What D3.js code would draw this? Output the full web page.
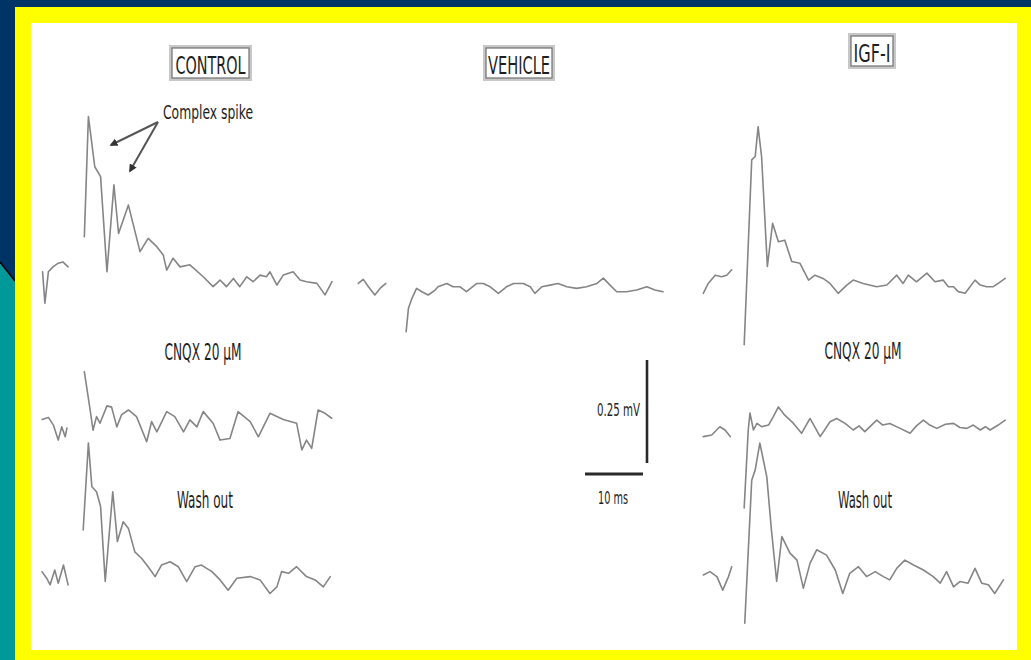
<!DOCTYPE html>
<html>
<head>
<meta charset="utf-8">
<script src="https://cdn.jsdelivr.net/npm/d3@7"></script>
<style>
  html, body { margin: 0; padding: 0; background: #003366; }
  svg { display: block; }
</style>
</head>
<body>
<svg id="fig" width="1031" height="660"></svg>
<script>
// ---- Labels ----
const columnTitles = ["CONTROL", "VEHICLE", "IGF-I"];
const rowLabels = ["CNQX 20 \u00b5M", "Wash out"];
const annotationText = "Complex spike";
const scaleBarLabels = ["0.25 mV", "10 ms"];
const scaleBarValues = [0.25, 10]; // mV, ms

// ---- Field potential traces: [time ms, voltage mV] ----
// CONTROL, baseline recording
const ctrlTopPre = [[0.1,0.015],[0.5,-0.061],[1.1,0.015],[1.9,0.027],[2.8,0.036],[3.6,0.039],[4.5,0.027]];
const ctrlTopPost = [[7.3,0.100],[8.0,0.392],[9.1,0.270],[10.1,0.246],[11.2,0.015],[12.4,0.226],[13.2,0.108],
  [14.9,0.177],[16.9,0.064],[18.3,0.096],[19.8,0.076],[20.9,0.056],[21.5,0.019],[22.6,0.048],[23.8,0.027],
  [25.5,0.032],[27.8,0.003],[29.5,-0.021],[30.7,-0.005],[31.8,-0.021],[33.0,-0.001],[34.1,-0.021],[35.3,0.003],
  [36.4,-0.009],[37.6,0.007],[38.7,0.003],[39.3,0.015],[40.5,-0.017],[41.6,0.007],[43.3,0.015],[44.5,-0.005],
  [45.6,-0.009],[47.4,-0.013],[48.8,-0.041],[50.0,-0.009]];
// CONTROL, CNQX 20 uM
const ctrlCnqxPre = [[0.0,-0.006],[1.1,-0.001],[1.95,-0.019],[2.8,-0.056],[3.4,-0.024],[4.0,-0.048],[4.3,-0.027]];
const ctrlCnqxPost = [[7.3,0.110],[8.3,0.017],[8.8,-0.032],[9.4,0.001],[10.0,-0.015],[11.2,0.027],[12.0,0.024],
  [12.9,-0.024],[13.7,0.005],[14.9,0.017],[16.3,0.001],[18.05,-0.060],[18.9,-0.011],[19.8,-0.036],[21.5,0.013],
  [22.9,0.001],[24.4,-0.036],[25.5,-0.007],[26.7,-0.024],[27.8,0.013],[29.5,-0.015],[30.7,-0.056],[32.4,-0.052],
  [33.8,0.013],[35.9,-0.011],[37.3,-0.048],[39.3,0.009],[41.6,-0.006],[43.9,-0.015],[44.8,-0.080],[45.6,-0.056],
  [46.5,-0.076],[47.6,0.017],[48.8,0.009],[49.95,-0.003]];
// CONTROL, wash out
const ctrlWashPre = [[0.0,0.013],[0.8,-0.003],[1.4,-0.019],[2.2,0.017],[2.8,-0.015],[3.7,0.029],[4.5,-0.019]];
const ctrlWashPost = [[7.1,0.114],[8.0,0.325],[8.6,0.219],[9.4,0.207],[10.1,0.171],[10.9,-0.011],[12.2,0.207],
  [13.0,0.086],[14.0,0.134],[14.9,0.118],[16.0,0.061],[17.2,0.045],[18.3,0.025],[19.5,0.001],[20.6,0.029],
  [22.1,0.037],[23.5,0.025],[24.95,-0.011],[26.4,0.025],[27.5,0.029],[29.3,0.013],[30.7,-0.007],[32.1,-0.032],
  [33.6,-0.003],[35.9,0.001],[37.6,-0.007],[39.3,-0.040],[40.5,-0.024],[41.3,0.013],[42.5,0.009],[43.9,0.025],
  [45.6,0.001],[47.1,-0.007],[48.5,-0.024],[49.7,0.001]];
// VEHICLE
const vehTopPre = [[0.05,0.011],[0.9,0.021],[1.8,0.003],[2.9,-0.017],[3.8,-0.001],[4.8,0.011]];
const vehTopPost = [[8.3,-0.106],[8.7,-0.049],[9.3,-0.025],[10.1,-0.001],[11.0,-0.009],[12.1,-0.017],[13.3,-0.005],
  [13.8,0.003],[15.3,0.011],[16.4,0.003],[17.6,0.003],[18.7,-0.009],[20.5,0.011],[21.6,0.011],[22.8,0.003],
  [24.2,-0.013],[25.6,0.003],[26.8,0.011],[28.5,0.011],[29.7,0.003],[30.5,-0.013],[31.7,0.003],[33.1,0.007],
  [34.5,0.011],[36.0,0.003],[37.7,-0.001],[39.4,0.003],[41.2,0.011],[42.3,0.024],[43.45,0.007],[44.6,-0.009],
  [46.3,-0.009],[48.05,-0.005],[49.8,0.003],[51.2,-0.005],[52.6,-0.009]];
// IGF-I, baseline recording
const igfTopPre = [[0.05,-0.025],[0.9,-0.001],[2.1,0.019],[3.2,0.015],[4.1,0.019],[4.95,0.032]];
const igfTopPost = [[7.1,-0.150],[8.4,0.299],[9.0,0.307],[9.5,0.379],[10.1,0.307],[11.1,0.040],[12.0,0.145],
  [13.0,0.100],[14.1,0.104],[15.3,0.052],[16.7,0.048],[18.2,0.007],[19.3,0.019],[20.7,0.011],[21.9,-0.001],
  [23.3,-0.025],[24.8,-0.005],[25.9,0.007],[27.6,-0.001],[29.95,-0.009],[31.7,-0.005],[33.4,0.019],[34.5,-0.001],
  [35.4,0.019],[36.8,0.003],[38.6,0.024],[40.0,0.003],[41.4,0.007],[42.3,-0.009],[43.2,-0.009],[44.0,-0.021],
  [45.2,-0.025],[46.9,0.007],[47.8,-0.005],[48.9,-0.009],[50.05,-0.009],[50.9,-0.001],[52.1,0.011]];
// IGF-I, CNQX 20 uM
const igfCnqxPre = [[0.05,-0.016],[1.5,-0.012],[2.9,0.008],[3.8,0.0],[4.7,-0.016]];
const igfCnqxPost = [[7.1,-0.189],[7.8,0.0],[8.1,0.041],[8.7,0.0],[9.3,0.016],[10.1,0.008],[11.3,0.012],
  [12.1,0.032],[13.0,0.056],[14.1,0.036],[15.6,0.016],[17.0,-0.008],[18.45,0.028],[20.2,-0.016],[21.9,0.020],
  [23.05,0.028],[24.5,0.016],[25.9,0.0],[26.9,0.010],[27.9,-0.004],[29.95,0.024],[31.0,0.012],[32.2,0.016],
  [34.0,0.004],[35.7,-0.008],[36.8,0.010],[38.0,0.024],[39.1,0.012],[40.3,0.004],[41.8,0.014],[43.2,0.016],
  [44.3,0.006],[45.5,0.004],[46.6,0.012],[47.8,0.0],[48.7,0.008],[49.5,0.0],[50.9,0.012],[52.1,0.024]];
// IGF-I, wash out
const igfWashPre = [[0.05,0.005],[1.2,0.013],[2.4,0.001],[3.4,-0.032],[4.4,0.001],[4.95,0.025]];
const igfWashPost = [[7.2,-0.112],[8.4,0.235],[9.0,0.260],[9.8,0.325],[11.0,0.243],[11.8,0.114],[12.7,-0.011],
  [13.6,0.098],[15.0,0.058],[16.2,0.041],[17.3,-0.027],[18.45,0.033],[19.6,0.066],[21.3,0.053],[22.8,0.017],
  [24.1,-0.040],[25.3,0.009],[26.8,0.025],[28.2,0.001],[29.7,0.013],[31.1,0.001],[32.2,-0.007],[33.4,0.021],
  [34.8,0.041],[36.3,0.029],[38.0,0.017],[39.7,0.001],[40.9,-0.015],[42.0,0.013],[43.2,-0.024],[44.3,-0.011],
  [45.7,-0.015],[46.9,0.021],[48.05,-0.015],[49.2,-0.019],[50.3,-0.040],[51.8,-0.007]];

// ---- Layout ----
const W = 1031, H = 660;
const PX_PER_MS = 5.8, PX_PER_MV = 412;
const colOrigin = [42, 358, 703];          // x of t = 0 per column
const traces = [
  { col: 0, base: 278, segs: [ctrlTopPre, ctrlTopPost] },
  { col: 0, base: 417, segs: [ctrlCnqxPre, ctrlCnqxPost] },
  { col: 0, base: 577, segs: [ctrlWashPre, ctrlWashPost] },
  { col: 1, base: 288, segs: [vehTopPre, vehTopPost] },
  { col: 2, base: 283, segs: [igfTopPre, igfTopPost] },
  { col: 2, base: 430, segs: [igfCnqxPre, igfCnqxPost] },
  { col: 2, base: 577, segs: [igfWashPre, igfWashPost] }
];

function xScaleFor(x0) {
  return d3.scaleLinear().domain([0, 50]).range([x0, x0 + 50 * PX_PER_MS]);
}
function yScaleFor(y0) {
  return d3.scaleLinear().domain([0, 0.25]).range([y0, y0 - 0.25 * PX_PER_MV]);
}

const svg = d3.select("#fig");
const narrow = "'Liberation Sans Narrow', 'DejaVu Sans Condensed', 'Liberation Sans', sans-serif";
const ink = "#1e1e1e";

// ---- Slide background ----
svg.append("rect").attr("width", W).attr("height", H).attr("fill", "#009999");
svg.append("polygon").attr("points", `0,0 ${W},0 ${W},8 15,8 15,281 0,263`).attr("fill", "#003366");
svg.append("line").attr("x1", 0).attr("y1", 262).attr("x2", 15).attr("y2", 281)
  .attr("stroke", "#000").attr("stroke-width", 1.5);
svg.append("rect").attr("x", 15).attr("y", 7).attr("width", W - 15).attr("height", H - 7).attr("fill", "#ffff00");
svg.append("rect").attr("x", 31).attr("y", 23).attr("width", 1017 - 31).attr("height", 650 - 23).attr("fill", "#ffffff");

// ---- Traces ----
const g = svg.append("g");
traces.forEach(tr => {
  const x = xScaleFor(colOrigin[tr.col]);
  const y = yScaleFor(tr.base);
  const line = d3.line().x(d => x(d[0])).y(d => y(d[1]));
  tr.segs.forEach(seg => {
    g.append("path").datum(seg).attr("d", line)
      .attr("fill", "none").attr("stroke", "#858585")
      .attr("stroke-width", 1.6).attr("stroke-linejoin", "round").attr("stroke-linecap", "round");
  });
});

// ---- Column titles in framed boxes ----
const titleBoxes = [
  { x: 169, y: 45, w: 83, h: 36, tl: 70 },
  { x: 483, y: 45, w: 72, h: 36, tl: 62 },
  { x: 848, y: 33, w: 48, h: 36, tl: 37 }
];
columnTitles.forEach((t, i) => {
  const b = titleBoxes[i];
  svg.append("rect").attr("x", b.x).attr("y", b.y).attr("width", b.w).attr("height", b.h).attr("fill", "#c8c8c8");
  svg.append("rect").attr("x", b.x + 3).attr("y", b.y + 3).attr("width", b.w - 6).attr("height", b.h - 6)
    .attr("fill", "#fff").attr("stroke", "#707070").attr("stroke-width", 1.2);
  svg.append("text").attr("x", b.x + b.w / 2).attr("y", b.y + b.h - 7)
    .attr("text-anchor", "middle").attr("font-family", narrow).attr("font-size", 24)
    .attr("textLength", b.tl).attr("lengthAdjust", "spacingAndGlyphs")
    .attr("fill", ink).text(t);
});

// ---- Row labels ----
const rowLabelPos = [
  { x: 203, y: 360, tl: 77 }, { x: 863, y: 359, tl: 77 },
  { x: 205, y: 508, tl: 56 }, { x: 865, y: 508, tl: 54 }
];
rowLabelPos.forEach((p, i) => {
  svg.append("text").attr("x", p.x).attr("y", p.y).attr("text-anchor", "middle")
    .attr("font-family", narrow).attr("font-size", 23)
    .attr("textLength", p.tl).attr("lengthAdjust", "spacingAndGlyphs")
    .attr("fill", ink).text(rowLabels[i < 2 ? 0 : 1]);
});

// ---- Complex spike annotation ----
const defs = svg.append("defs");
defs.append("marker").attr("id", "ah").attr("viewBox", "0 0 10 10")
  .attr("refX", 8).attr("refY", 5).attr("markerWidth", 4).attr("markerHeight", 4)
  .attr("orient", "auto")
  .append("path").attr("d", "M0,0 L10,5 L0,10 z").attr("fill", "#333");
svg.append("text").attr("x", 208).attr("y", 119).attr("text-anchor", "middle")
  .attr("font-family", narrow).attr("font-size", 19)
  .attr("textLength", 90).attr("lengthAdjust", "spacingAndGlyphs")
  .attr("fill", ink).text(annotationText);
[[111, 145], [130, 171]].forEach(end => {
  svg.append("line").attr("x1", 158).attr("y1", 122).attr("x2", end[0]).attr("y2", end[1])
    .attr("stroke", "#555").attr("stroke-width", 2).attr("marker-end", "url(#ah)");
});

// ---- Scale bars ----
const sbX = xScaleFor(585), sbY = yScaleFor(463);
svg.append("line").attr("x1", 647).attr("x2", 647)
  .attr("y1", sbY(0)).attr("y2", sbY(scaleBarValues[0]))
  .attr("stroke", "#2a2a2a").attr("stroke-width", 2.6);
svg.append("line").attr("x1", sbX(0)).attr("x2", sbX(scaleBarValues[1]))
  .attr("y1", 474).attr("y2", 474)
  .attr("stroke", "#2a2a2a").attr("stroke-width", 3);
svg.append("text").attr("x", 640).attr("y", 416).attr("text-anchor", "end")
  .attr("font-family", narrow).attr("font-size", 17)
  .attr("textLength", 43).attr("lengthAdjust", "spacingAndGlyphs")
  .attr("fill", ink).text(scaleBarLabels[0]);
svg.append("text").attr("x", 613).attr("y", 504).attr("text-anchor", "middle")
  .attr("font-family", narrow).attr("font-size", 17)
  .attr("textLength", 30).attr("lengthAdjust", "spacingAndGlyphs")
  .attr("fill", ink).text(scaleBarLabels[1]);
</script>
</body>
</html>
